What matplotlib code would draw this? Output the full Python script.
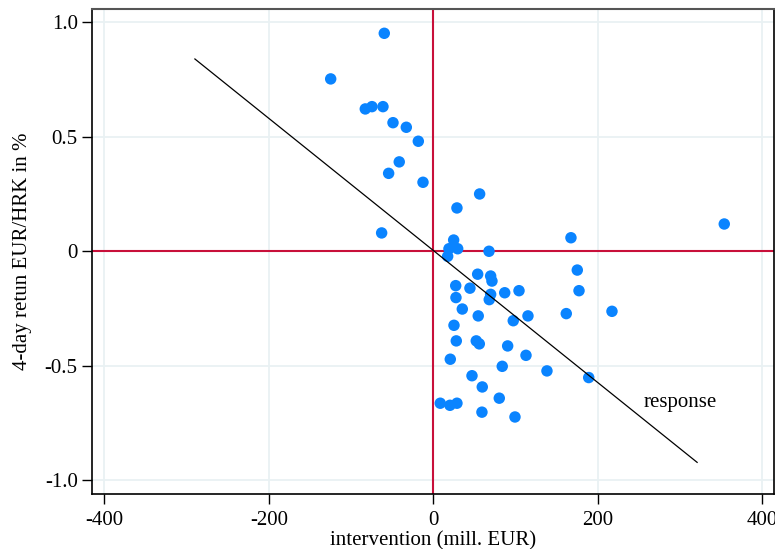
import matplotlib.pyplot as plt

# intervention amount (mill. EUR) and 4-day EUR/HRK return (%)
intervention = [-59.6, -124.8, -82.7, -74.6, -61.2, -49.0, -32.8, -18.2, -41.4, -54.3,
                -12.5, -62.8, 56.4, 28.8, 24.8, 19.1, 29.7, 17.5, 67.8, 167.5,
                354.0, 175.2, 177.3, 161.8, 217.4, 54.0, 69.8, 71.4, 27.3, 44.6,
                27.6, 69.8, 68.1, 86.9, 104.3, 35.3, 54.7, 97.3, 115.2, 25.2,
                28.0, 52.3, 56.0, 90.5, 112.8, 20.7, 83.9, 138.3, 189.1, 47.1,
                59.6, 80.3, 8.5, 20.3, 28.8, 59.2, 99.4]
ret4 = [0.951, 0.752, 0.621, 0.631, 0.631, 0.561, 0.541, 0.480, 0.390, 0.340,
        0.301, 0.080, 0.250, 0.189, 0.049, 0.011, 0.011, -0.022, 0.000, 0.059,
        0.119, -0.082, -0.172, -0.272, -0.262, -0.100, -0.108, -0.130, -0.150, -0.161,
        -0.202, -0.188, -0.211, -0.181, -0.172, -0.252, -0.282, -0.303, -0.282, -0.323,
        -0.391, -0.391, -0.404, -0.413, -0.454, -0.471, -0.502, -0.522, -0.551, -0.543,
        -0.592, -0.641, -0.663, -0.672, -0.663, -0.702, -0.723]

# fitted response line end points
resp_x = [-290, 321]
resp_y = [0.839, -0.921]

xticks = [-400, -200, 0, 200, 400]
yticks = [-1.0, -0.5, 0, 0.5, 1.0]
yticklabels = ['-1.0', '-0.5', '0', '0.5', '1.0']

plt.rcParams['font.family'] = 'Liberation Serif'
plt.rcParams['font.size'] = 15
plt.rcParams['axes.unicode_minus'] = False

fig = plt.figure(figsize=(7.75, 5.49), dpi=100)
ax = fig.add_axes([0.1191, 0.1002, 0.8796, 0.8834])

ax.set_xlim(-414.8, 414.5)
ax.set_ylim(-1.059, 1.057)
ax.set_xticks(xticks)
ax.set_yticks(yticks)
ax.set_yticklabels(yticklabels)
ax.grid(True, color='#e9f1f3', linewidth=1.3)
ax.set_axisbelow(True)

ax.axvline(0, color='#c8103a', linewidth=1.5, zorder=2)
ax.axhline(0, color='#c8103a', linewidth=1.5, zorder=2)

ax.scatter(intervention, ret4, s=68, color='#0a84ff', edgecolors='none', zorder=3)
ax.plot(resp_x, resp_y, color='black', linewidth=0.9, zorder=4)
ax.text(301, -0.662, 'response', ha='center', va='center', fontsize=15)

for side in ['left', 'bottom', 'right']:
    ax.spines[side].set_color('black')
    ax.spines[side].set_linewidth(1.2)
ax.spines['top'].set_color('#555555')
ax.spines['top'].set_linewidth(1.5)

ax.tick_params(axis='both', length=7, width=1.0, color='black', labelsize=15)
ax.tick_params(axis='x', pad=5)
ax.set_xlabel('intervention (mill. EUR)', fontsize=15, labelpad=1)
ax.set_ylabel('4-day retun EUR/HRK in %', fontsize=15, labelpad=9)

plt.savefig('out.png', dpi=100)
